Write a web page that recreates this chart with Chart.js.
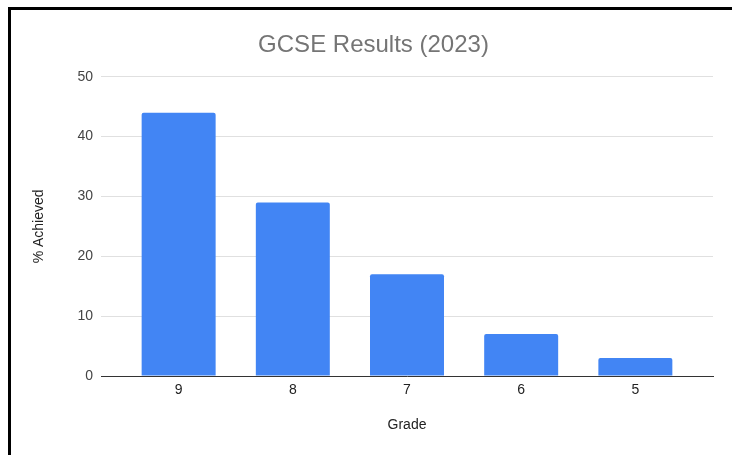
<!DOCTYPE html>
<html>
<head>
<meta charset="utf-8">
<script src="https://cdn.jsdelivr.net/npm/chart.js@4/dist/chart.umd.min.js"></script>
<style>
  html, body { margin: 0; padding: 0; background: #fff; }
  #wrap { position: relative; width: 732px; height: 455px; overflow: hidden; }
  #frame {
    position: absolute; left: 8px; top: 7px; width: 740px; height: 460px;
    border-top: 3px solid #000; border-left: 3px solid #000; pointer-events: none;
  }
  canvas { position: absolute; left: 0; top: 0; }
</style>
</head>
<body>
<div id="wrap">
  <canvas id="chart" width="732" height="455"></canvas>
  <div id="frame"></div>
</div>
<script>
// grades along the x axis (highest first)
const grades = ["9", "8", "7", "6", "5"];
// % of students achieving each grade
const achieved = [44, 29, 17, 7, 3];

const yMax = 50;
const yStep = 10;

// grade axis runs from 9 down to 5, with some empty room at each end
const gradeHigh = 9.68;
const gradeLow = 4.32;

const font = "'Liberation Sans', Arial, sans-serif";

const config = {
  type: "bar",
  data: {
    labels: grades,
    datasets: [
      {
        label: "% Achieved",
        data: achieved,
        backgroundColor: "#4285f4",
        borderRadius: 2,
        borderSkipped: "bottom",
        categoryPercentage: 1,
        barPercentage: 0.648,
      },
    ],
  },
  options: {
    responsive: false,
    animation: false,
    layout: { padding: { top: 0, right: 19, bottom: 0, left: 34 } },
    plugins: {
      legend: { display: false },
      tooltip: { enabled: false },
      title: {
        display: true,
        text: "GCSE Results (2023)",
        color: "#757575",
        font: { family: font, size: 24, weight: "normal" },
        padding: { top: 31, bottom: 17 },
      },
    },
    scales: {
      x: {
        type: "linear",
        reverse: true,
        offset: false,
        min: gradeLow,
        max: gradeHigh,
        grid: { display: false, drawTicks: false },
        border: { display: true, color: "#333", width: 1 },
        ticks: {
          stepSize: 1,
          includeBounds: false,
          color: "#222",
          padding: 6,
          font: { family: font, size: 14 },
        },
        title: {
          display: true,
          text: "Grade",
          color: "#222",
          font: { family: font, size: 14 },
          padding: { top: 0, bottom: 21 },
        },
        afterFit(scale) {
          scale.height = 79;
        },
      },
      y: {
        min: 0,
        max: yMax,
        grid: { color: "#e0e0e0", drawTicks: false },
        border: { display: false },
        ticks: {
          stepSize: yStep,
          color: "#444",
          padding: 8,
          font: { family: font, size: 14 },
        },
        title: {
          display: true,
          text: "% Achieved",
          color: "#222",
          font: { family: font, size: 14 },
          padding: { top: -3, bottom: 0 },
        },
        afterFit(scale) {
          scale.width = 67;
        },
      },
    },
  },
};

new Chart(document.getElementById("chart"), config);
</script>
</body>
</html>
